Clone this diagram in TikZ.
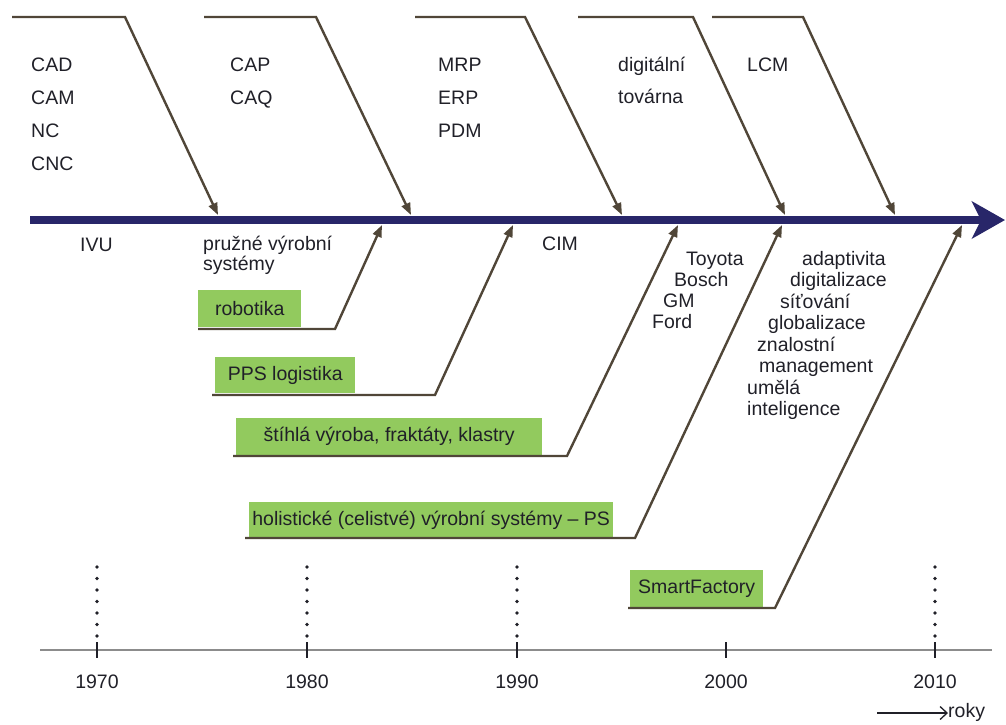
\documentclass[tikz,border=0pt]{standalone}
\usepackage{fontspec}
\setmainfont{Liberation Sans}
\usetikzlibrary{arrows.meta}

\definecolor{axisblue}{RGB}{40,38,105}
\definecolor{bone}{RGB}{80,70,56}
\definecolor{boxgreen}{RGB}{146,202,94}
\definecolor{ink}{RGB}{32,32,40}
\definecolor{rulegray}{RGB}{140,140,140}

\begin{document}
\begin{tikzpicture}[x=1pt, y=-1pt,
  font=\fontsize{19.5}{21.5}\selectfont,
  lbl/.style={anchor=base west, inner sep=0pt, text=ink},
  yearlbl/.style={anchor=base, inner sep=0pt, text=ink},
  bonearrow/.style={draw=bone, line width=2.4pt, line join=miter,
    -{Triangle[length=12pt,width=9pt]}},
  greenbox/.style={fill=boxgreen, inner sep=0pt, text=ink, anchor=north west},
  tickmark/.style={draw=ink, line width=2.6pt},
  dotline/.style={draw=ink, line width=3.6pt, line cap=round,
    dash pattern=on 0pt off 11.5pt},
]
\useasboundingbox (0,0) rectangle (1006,724);

% ---- main time axis ----
\coordinate (ax0) at (30,220);
\coordinate (ax1) at (1005,220);
\draw[axisblue, line width=7.5pt,
  -{Stealth[length=33pt,width=37pt,inset=9pt]}] (ax0) -- (ax1);

% ---- upper bones (arrows pointing down onto the axis) ----
\foreach \n/\xa/\xb/\xc in {1/12/125/218, 2/204/316/411, 3/415/525/622,
                            4/578/693/785, 5/712/803/895}{
  \coordinate (b\n a) at (\xa,17);
  \coordinate (b\n b) at (\xb,17);
  \coordinate (b\n c) at (\xc,215);
  \draw[bonearrow] (b\n a) -- (b\n b) -- (b\n c);
}

% upper labels
\node[lbl] (cad) at (31,71)  {CAD};
\node[lbl] (cam) at (31,104) {CAM};
\node[lbl] (nc)  at (31,137) {NC};
\node[lbl] (cnc) at (31,170) {CNC};
\node[lbl] (cap) at (230,71)  {CAP};
\node[lbl] (caq) at (230,104) {CAQ};
\node[lbl] (mrp) at (438,71)  {MRP};
\node[lbl] (erp) at (438,104) {ERP};
\node[lbl] (pdm) at (438,137) {PDM};
\node[lbl] (dig) at (618,71)  {digitální};
\node[lbl] (tov) at (618,103) {továrna};
\node[lbl] (lcm) at (747,71)  {LCM};

% labels just below the axis
\node[lbl] (ivu) at (80,251)  {IVU};
\node[lbl] (pvs1) at (203,250) {pružné výrobní};
\node[lbl] (pvs2) at (203,270) {systémy};
\node[lbl] (cim) at (542,250) {CIM};

\node[lbl] (toy) at (686,265) {Toyota};
\node[lbl] (bos) at (674,286) {Bosch};
\node[lbl] (gm)  at (663,307) {GM};
\node[lbl] (frd) at (652,328) {Ford};

\node[lbl] (ad1) at (802,265)   {adaptivita};
\node[lbl] (ad2) at (790,286.5) {digitalizace};
\node[lbl] (ad3) at (780,308)   {síťování};
\node[lbl] (ad4) at (768,329.5) {globalizace};
\node[lbl] (ad5) at (757,351)   {znalostní};
\node[lbl] (ad6) at (759,372.5) {management};
\node[lbl] (ad7) at (747,394)   {umělá};
\node[lbl] (ad8) at (747,415.5) {inteligence};

% ---- lower bones with green boxes (arrows pointing up onto the axis) ----
\node[greenbox, minimum width=103pt, minimum height=37pt] (g1) at (198,290) {robotika};
\node[greenbox, minimum width=140pt, minimum height=36pt] (g2) at (215,357) {PPS logistika};
\node[greenbox, minimum width=306pt, minimum height=37pt] (g3) at (236,418) {štíhlá výroba, fraktáty, klastry};
\node[greenbox, minimum width=364pt, minimum height=36pt] (g4) at (249,502) {holistické (celistvé) výrobní systémy – PS};
\node[greenbox, minimum width=133pt, minimum height=37pt] (g5) at (630,570) {SmartFactory};

\foreach \n/\xa/\y/\xb/\xc in {1/198/329/335/382, 2/212/395/435/513,
                               3/233/456/567/678, 4/245/538/635/782,
                               5/628/608/775/962}{
  \coordinate (g\n a) at (\xa,\y);
  \coordinate (g\n b) at (\xb,\y);
  \coordinate (g\n c) at (\xc,225);
  \draw[bonearrow] (g\n a) -- (g\n b) -- (g\n c);
}

% ---- year scale ----
\coordinate (tl0) at (40,650);
\coordinate (tl1) at (992,650);
\draw[rulegray, line width=2pt] (tl0) -- (tl1);

\foreach \yr/\x/\dots in {1970/97/1, 1980/307/1, 1990/517/1, 2000/726/0, 2010/935/1}{
  \coordinate (t\yr a) at (\x,642);
  \coordinate (t\yr b) at (\x,658);
  \draw[tickmark] (t\yr a) -- (t\yr b);
  \ifnum\dots=1
    \coordinate (d\yr a) at (\x,567);
    \coordinate (d\yr b) at (\x,640);
    \draw[dotline] (d\yr a) -- (d\yr b);
  \fi
  \node[yearlbl] (y\yr) at (\x,688) {\yr};
}

% unit note
\node[lbl] (roky) at (948,717) {roky};
\coordinate (rk0) at (877,713);
\draw[ink, line width=1.3pt, -{Straight Barb[length=7pt,width=13pt]}]
  (rk0) -- (rk0 -| roky.west);
\end{tikzpicture}
\end{document}
